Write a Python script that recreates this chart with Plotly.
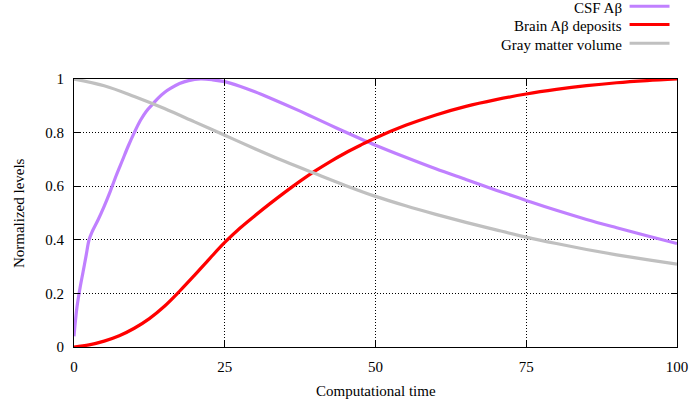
import plotly.graph_objects as go

# ---- data ----
csf_x = [0, 0.25, 0.5, 1, 1.5, 2, 2.5, 3, 4, 5, 6, 7, 8, 9, 10, 11, 12, 13, 14, 15, 16,
         17.5, 19, 21, 23, 25, 27.5, 30, 32.5, 35, 37.5, 40, 42.5, 45, 47.5, 50, 55, 60,
         65, 70, 75, 80, 85, 90, 95, 100]
csf_y = [0.04, 0.10, 0.15, 0.22, 0.28, 0.34, 0.40, 0.43, 0.475, 0.525, 0.58, 0.64, 0.695,
         0.75, 0.80, 0.845, 0.88, 0.905, 0.93, 0.95, 0.965, 0.983, 0.994, 1.0, 0.997, 0.99,
         0.973, 0.952, 0.929, 0.905, 0.88, 0.854, 0.828, 0.802, 0.777, 0.753, 0.708, 0.665,
         0.625, 0.585, 0.547, 0.51, 0.476, 0.445, 0.415, 0.386]

brain_x = [0, 2.5, 5, 7.5, 10, 12.5, 15, 17.5, 20, 22.5, 25, 27.5, 30, 32.5, 35, 37.5, 40,
           42.5, 45, 47.5, 50, 55, 60, 65, 70, 75, 80, 85, 90, 95, 100]
brain_y = [0.0, 0.008, 0.022, 0.042, 0.07, 0.106, 0.152, 0.208, 0.268, 0.33, 0.39, 0.443,
           0.49, 0.535, 0.578, 0.619, 0.657, 0.692, 0.724, 0.753, 0.78, 0.827, 0.866, 0.898,
           0.923, 0.944, 0.961, 0.975, 0.986, 0.994, 1.0]

gray_x = [0, 5, 10, 15, 20, 25, 30, 35, 40, 45, 50, 55, 60, 65, 70, 75, 80, 85, 90, 95, 100]
gray_y = [1.0, 0.975, 0.935, 0.89, 0.84, 0.79, 0.74, 0.692, 0.647, 0.603, 0.562, 0.527,
          0.495, 0.465, 0.437, 0.41, 0.386, 0.364, 0.344, 0.326, 0.309]

names = ["CSF A\u03b2", "Brain A\u03b2 deposits", "Gray matter volume"]
colors = ["#c080ff", "#ff0000", "#c0c0c0"]

x_ticks = [0, 25, 50, 75, 100]
y_ticks = [0, 0.2, 0.4, 0.6, 0.8, 1]
y_labels = ["0", "0.2", "0.4", "0.6", "0.8", "1"]

FONT = "Liberation Serif, Times New Roman, serif"
FS = 15

# plot-area geometry (pixels)
L, R, T, B = 73.5, 13.5, 78.5, 61
W, H = 691, 408
PW, PH = W - L - R, H - T - B


def px_to_paper_x(px):
    return (px - L) / PW


def py_to_paper_y(py):
    return (H - B - py) / PH


fig = go.Figure()
series = [(csf_x, csf_y), (brain_x, brain_y), (gray_x, gray_y)]
for (xs, ys), nm, c in zip(series, names, colors):
    fig.add_trace(go.Scatter(x=xs, y=ys, mode="lines", name=nm,
                             line=dict(color=c, width=3.2, shape="spline", smoothing=1.0),
                             showlegend=False))

# legend drawn manually (text on the left, sample line on the right)
leg_text_py = [7.0, 25.5, 44.0]
leg_line_py = [5.5, 24.0, 42.7]
for nm, c, ty, ly in zip(names, colors, leg_text_py, leg_line_py):
    fig.add_annotation(x=px_to_paper_x(623), y=py_to_paper_y(ty), xref="paper", yref="paper",
                       text=nm, showarrow=False, xanchor="right", yanchor="middle",
                       borderpad=0,
                       font=dict(family=FONT, size=FS, color="black"))
    fig.add_shape(type="line", xref="paper", yref="paper",
                  x0=px_to_paper_x(630), x1=px_to_paper_x(670),
                  y0=py_to_paper_y(ly), y1=py_to_paper_y(ly), line=dict(color=c, width=3))

# axis titles
fig.add_annotation(x=0.5, y=py_to_paper_y(391), xref="paper", yref="paper",
                   text="Computational time", showarrow=False,
                   xanchor="center", yanchor="middle",
                   font=dict(family=FONT, size=FS, color="black"))
fig.add_annotation(x=px_to_paper_x(18.5), y=0.5, xref="paper", yref="paper",
                   text="Normalized levels", showarrow=False, textangle=-90,
                   xanchor="center", yanchor="middle",
                   font=dict(family=FONT, size=FS, color="black"))

axis_common = dict(showline=True, linecolor="black", linewidth=1, mirror="ticks",
                   ticks="inside", ticklen=6, tickcolor="black", tickwidth=1,
                   showgrid=True, gridcolor="black", gridwidth=1, griddash="1px,2px",
                   zeroline=False, automargin=False,
                   tickfont=dict(family=FONT, size=FS, color="black"))

fig.update_xaxes(range=[0, 100], tickvals=x_ticks, ticktext=[str(v) for v in x_ticks],
                 ticklabelstandoff=6, **axis_common)
fig.update_yaxes(range=[0, 1], tickvals=y_ticks, ticktext=y_labels,
                 ticklabelstandoff=6, **axis_common)

fig.update_layout(width=W, height=H, autosize=False,
                  margin=dict(l=L, r=R, t=T, b=B, pad=0),
                  plot_bgcolor="white", paper_bgcolor="white",
                  font=dict(family=FONT, size=FS, color="black"))

fig.write_html("out.html")
